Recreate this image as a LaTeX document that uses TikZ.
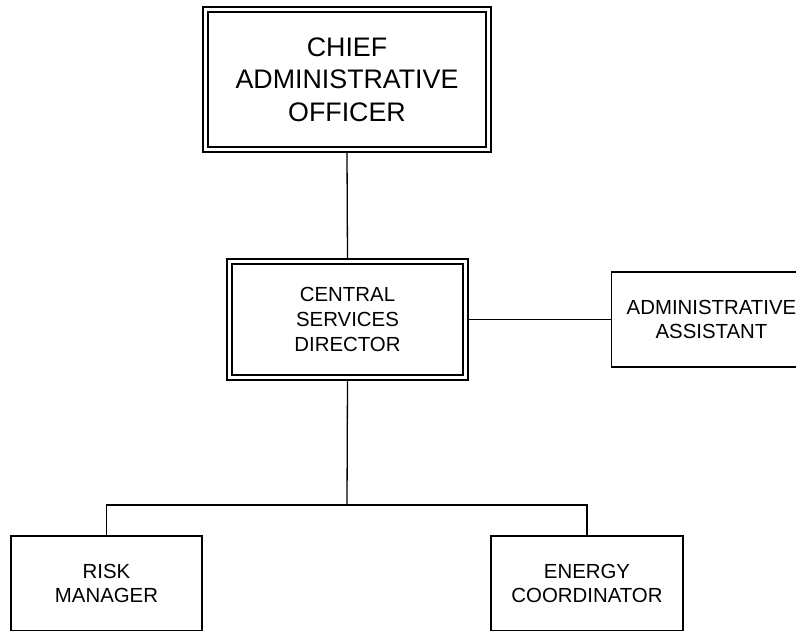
\documentclass[tikz,border=0pt]{standalone}
\usepackage{fontspec}
\setmainfont{Liberation Sans}
\begin{document}
\begin{tikzpicture}[x=1pt,y=-1pt,
  box/.style={draw=black, line width=1.4pt, rectangle, inner sep=0pt, outer sep=0pt,
    align=center, fill=white},
  bigtext/.style={font=\fontsize{26.8}{32.5}\selectfont},
  smalltext/.style={font=\fontsize{20.4}{24.7}\selectfont},
  innerline/.style={draw=black, line width=1.1pt},
  link/.style={draw=black, line width=1.3pt}]
\useasboundingbox (0,0) rectangle (796,631);

% boxes
\node[box, bigtext, minimum width=288pt, minimum height=145pt] (cao) at (347,79.5)
  {CHIEF\\ADMINISTRATIVE\\OFFICER};
\node[box, smalltext, minimum width=241pt, minimum height=121pt] (csd) at (347.5,319.5)
  {CENTRAL\\SERVICES\\DIRECTOR};
\node[box, smalltext, minimum width=200pt, minimum height=95pt] (aa) at (711.5,319.5)
  {ADMINISTRATIVE\\ASSISTANT};
\node[box, smalltext, minimum width=191pt, minimum height=95pt] (rm) at (106.5,583.5)
  {RISK\\MANAGER};
\node[box, smalltext, minimum width=192pt, minimum height=95pt] (ec) at (587,583.5)
  {ENERGY\\COORDINATOR};

% inner frames of the double-bordered boxes
\foreach \n in {cao,csd}
  \draw[innerline] ([xshift=5pt,yshift=-5pt]\n.north west) rectangle ([xshift=-5pt,yshift=5pt]\n.south east);

% connectors
\coordinate (split) at (347,505);
\draw[link] (cao.south) -- (csd.north);
\draw[link] (csd.east) -- (aa.west);
\draw[link] (csd.south) -- (split);
\draw[link] (rm.north) |- (split) -| (ec.north);
\end{tikzpicture}
\end{document}
